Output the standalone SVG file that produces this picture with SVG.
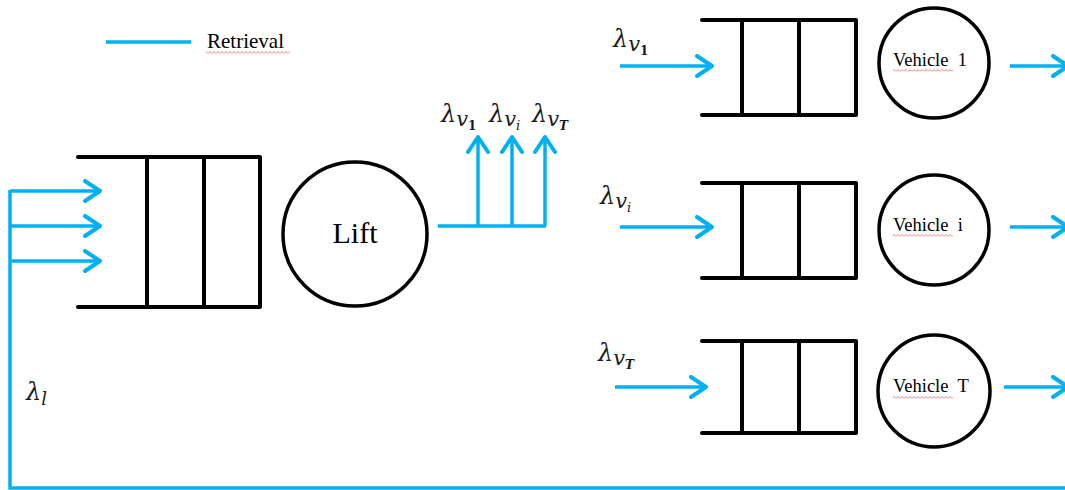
<svg xmlns="http://www.w3.org/2000/svg" width="1065" height="490" viewBox="0 0 1065 490">
<defs>
<style>
.q{fill:none;stroke:#000;stroke-width:4;stroke-linejoin:round;stroke-linecap:round}
.c{fill:#fff;stroke:#000;stroke-width:3.5}
.b{fill:none;stroke:#00B0F0;stroke-width:3.5}
.a{marker-end:url(#ah)}
.t{font-family:"Liberation Serif","Times New Roman",serif;fill:#000}
.m{font-family:"DejaVu Serif","Liberation Serif",serif;font-style:italic;fill:#1a1a1a}
</style>
<marker id="ah" markerUnits="userSpaceOnUse" markerWidth="24" markerHeight="24" viewBox="-20 -12 24 24" refX="0" refY="0" orient="auto">
<path d="M-15,-10 L0,0 L-15,10" fill="none" stroke="#00B0F0" stroke-width="4" stroke-linecap="round" stroke-linejoin="round"/>
</marker>
<pattern id="sq" width="4" height="3" patternUnits="userSpaceOnUse">
<path d="M0,2.5 L2,0.5 L4,2.5" fill="none" stroke="#e55" stroke-width="0.8"/>
</pattern>
</defs>
<rect width="1065" height="490" fill="#fff"/>

<g id="legend">
<line class="b" x1="106" y1="42" x2="191" y2="42" stroke-width="4"/>
<text class="t" x="207" y="48" font-size="21">Retrieval</text>
<rect x="206" y="51" width="84" height="3" fill="url(#sq)"/>
</g>

<g id="lift-queue">
<path class="q" d="M78,157 H260 V307 H78 M147,157 V307 M204,157 V307"/>
</g>
<g id="lift">
<circle class="c" cx="355" cy="234" r="72"/>
<text class="t" x="355" y="243" font-size="30" text-anchor="middle">Lift</text>
</g>

<g id="vehicle1-queue">
<path class="q" d="M702,20 H856 V115 H702 M742,20 V115 M799,20 V115"/>
</g>
<g id="vehicle1">
<circle class="c" cx="934" cy="63" r="55"/>
<text class="t" x="893" y="66" font-size="18.5" xml:space="preserve">Vehicle  1</text>
<rect x="893" y="69" width="60" height="3" fill="url(#sq)"/>
</g>

<g id="vehiclei-queue">
<path class="q" d="M702,183 H856 V278 H702 M742,183 V278 M799,183 V278"/>
</g>
<g id="vehiclei">
<circle class="c" cx="934" cy="230" r="55"/>
<text class="t" x="893" y="231" font-size="18.5" xml:space="preserve">Vehicle  i</text>
<rect x="893" y="234" width="60" height="3" fill="url(#sq)"/>
</g>

<g id="vehicleT-queue">
<path class="q" d="M702,341 H856 V433 H702 M742,341 V433 M799,341 V433"/>
</g>
<g id="vehicleT">
<circle class="c" cx="934" cy="391" r="56"/>
<text class="t" x="893" y="392" font-size="18.5" xml:space="preserve">Vehicle  T</text>
<rect x="893" y="396" width="60" height="3" fill="url(#sq)"/>
</g>

<g id="connectors">
<path class="b" d="M10,190 V488 H1065"/>
<line class="b a" x1="10" y1="191" x2="100" y2="191"/>
<line class="b a" x1="10" y1="226" x2="100" y2="226"/>
<line class="b a" x1="10" y1="261" x2="100" y2="261"/>
<path class="b" d="M438,226 H546"/>
<line class="b a" x1="478" y1="226" x2="478" y2="137"/>
<line class="b a" x1="512" y1="226" x2="512" y2="137"/>
<line class="b a" x1="545" y1="226" x2="545" y2="137"/>
<line class="b a" x1="620" y1="66" x2="712" y2="66"/>
<line class="b a" x1="620" y1="227" x2="712" y2="227"/>
<line class="b a" x1="615" y1="387" x2="706" y2="387"/>
<line class="b a" x1="1010" y1="66" x2="1068" y2="66"/>
<line class="b a" x1="1010" y1="227" x2="1068" y2="227"/>
<line class="b a" x1="1004" y1="387" x2="1068" y2="387"/>
</g>

<g id="labels">
<text class="m" x="441" y="122" font-size="24">λ<tspan font-size="21" dy="4">v</tspan><tspan font-size="12" dy="4" font-style="normal" font-weight="bold">1</tspan></text>
<text class="m" x="489" y="122" font-size="24">λ<tspan font-size="21" dy="4">v</tspan><tspan font-size="13" dy="4">i</tspan></text>
<text class="m" x="532" y="122" font-size="24">λ<tspan font-size="21" dy="4">v</tspan><tspan font-size="12" dy="4" font-weight="bold">T</tspan></text>
<text class="m" x="613" y="47" font-size="24">λ<tspan font-size="21" dy="4">v</tspan><tspan font-size="12" dy="4" font-style="normal" font-weight="bold">1</tspan></text>
<text class="m" x="600" y="204" font-size="24">λ<tspan font-size="21" dy="4">v</tspan><tspan font-size="13" dy="4">i</tspan></text>
<text class="m" x="598" y="361" font-size="24">λ<tspan font-size="21" dy="4">v</tspan><tspan font-size="12" dy="4" font-weight="bold">T</tspan></text>
<text class="m" x="26" y="400" font-size="24">λ<tspan font-size="18" dy="5">l</tspan></text>
</g>
</svg>
